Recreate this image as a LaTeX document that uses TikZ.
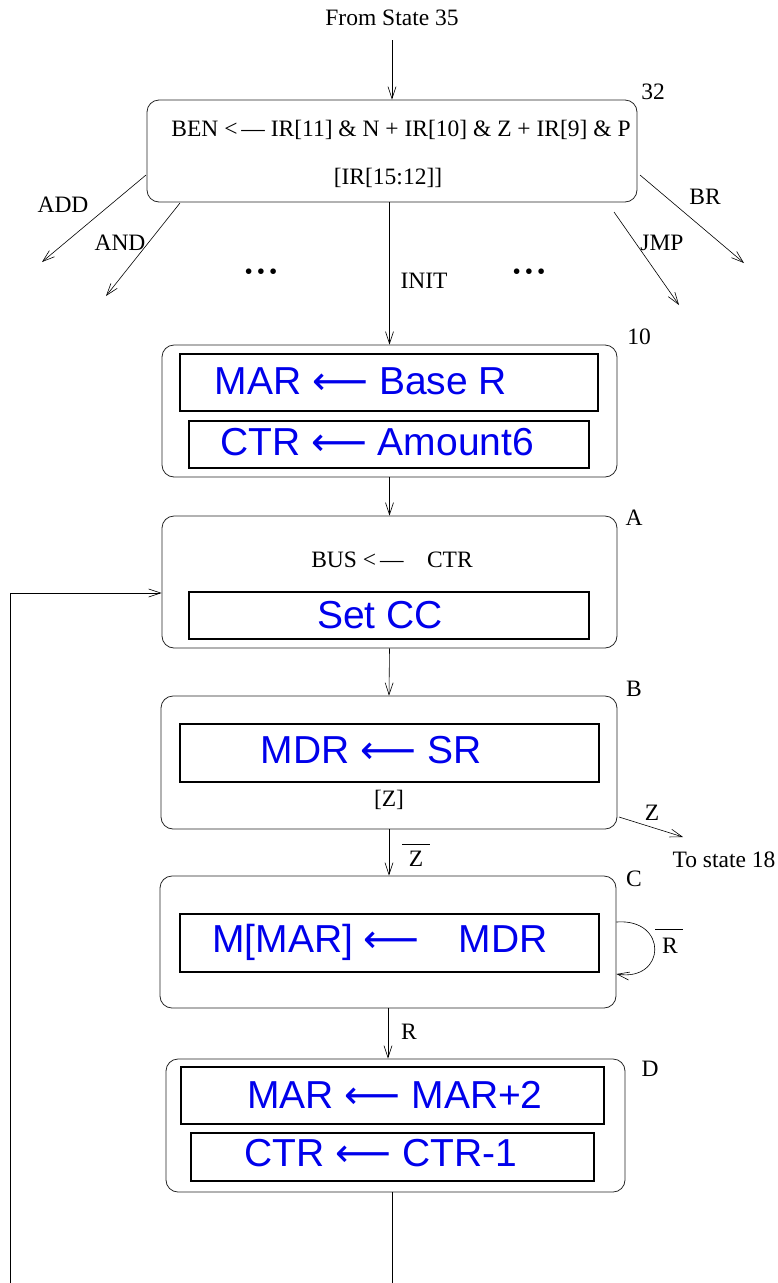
\documentclass[tikz,border=0pt]{standalone}
\usepackage{fontspec}
\setmainfont{Liberation Serif}
\newfontfamily\handfont{Liberation Sans}
\newfontfamily\symfont{DejaVu Sans}
\usetikzlibrary{arrows.meta}
\definecolor{ink}{RGB}{0,0,235}
\newcommand{\harr}{{\symfont ⟵}}
\begin{document}
\begin{tikzpicture}[x=1pt,y=-1pt,
  font=\fontsize{23.5}{27}\selectfont,
  state/.style={draw=black!85, line width=0.8pt, rounded corners=12pt, inner sep=0pt},
  inbox/.style={draw=black, line width=1.4pt, inner sep=0pt},
  hand/.style={text=ink, font=\handfont\fontsize{39}{42}\selectfont, inner sep=0pt},
  lbl/.style={inner sep=0pt},
  arr/.style={-{Straight Barb[length=12pt,width=8pt]}, line width=0.6pt},
  ln/.style={line width=0.6pt}]
\useasboundingbox (0,0) rectangle (777,1283);

% text labels
\node[lbl] (from) at (392,18) {From State 35};
\node[lbl] (n32) at (653,92) {32};
\node[lbl] (n10) at (639,337) {10};
\node[lbl] (nA) at (634,518) {A};
\node[lbl] (nB) at (634,689) {B};
\node[lbl] (nC) at (634,879) {C};
\node[lbl] (nD) at (650,1069) {D};

% states
\node[state, minimum width=490pt, minimum height=102pt] (b32) at (392,151) {};
\node[lbl] (ben) at (401,130) {BEN <\,— IR[11] \& N + IR[10] \& Z + IR[9] \& P};
\node[lbl] (irop) at (388,178) {[IR[15:12]]};

\node[state, minimum width=455pt, minimum height=132pt] (b10) at (389.5,411) {};
\node[inbox, minimum width=418pt, minimum height=57pt] (r10a) at (389,382.5) {};
\node[inbox, minimum width=400pt, minimum height=47pt] (r10b) at (389,444.5) {};
\node[hand] (t10a) at (361,381) {MAR \harr\ Base R};
\node[hand] (t10b) at (377,442) {CTR \harr\ Amount6};

\node[state, minimum width=455pt, minimum height=132pt] (bA) at (389.5,582) {};
\node[lbl] (bus) at (392,560) {BUS <\,—\quad CTR};
\node[inbox, minimum width=400pt, minimum height=47pt] (rA) at (389,615.5) {};
\node[hand] (tA) at (380,615) {Set CC};

\node[state, minimum width=456pt, minimum height=133pt] (bB) at (389,762.5) {};
\node[inbox, minimum width=419pt, minimum height=58pt] (rB) at (389.5,753) {};
\node[hand] (tB) at (371,750) {MDR \harr\ SR};
\node[lbl] (zsel) at (389,800) {[Z]};

\node[state, minimum width=456pt, minimum height=132pt] (bC) at (388,942) {};
\node[inbox, minimum width=419pt, minimum height=58pt] (rC) at (389.5,943) {};
\node[hand] (tC) at (380,942) {M[MAR] \harr\quad MDR};

\node[state, minimum width=459pt, minimum height=133pt] (bD) at (395.5,1125.5) {};
\node[inbox, minimum width=423pt, minimum height=57pt] (rD1) at (392.5,1095.5) {};
\node[inbox, minimum width=403pt, minimum height=48pt] (rD2) at (392.5,1157) {};
\node[hand] (tD1) at (395,1095) {MAR \harr\ MAR+2};
\node[hand] (tD2) at (381,1153) {CTR \harr\ CTR-1};

% branch labels
\node[lbl] (ladd) at (63,205) {ADD};
\node[lbl] (land) at (120,243) {AND};
\node[lbl] (lbr) at (705,197) {BR};
\node[lbl] (ljmp) at (662,243) {JMP};
\node[lbl] (linit) at (424,281) {INIT};
\node[lbl] (dots1) at (261,274) {\textbullet\,\textbullet\,\textbullet};
\node[lbl] (dots2) at (529,274) {\textbullet\,\textbullet\,\textbullet};
\node[lbl] (lz) at (652,813) {Z};
\node[lbl] (to18) at (724,860) {To state 18};
\node[lbl] (lnz) at (416,859) {Z};
\node[lbl] (lnr) at (670,946) {R};
\node[lbl] (lr) at (409,1032) {R};
\draw[ln] (402,844) -- (430,844);
\draw[ln] (655,929) -- (683,929);

% coordinates for free ends
\coordinate (addS) at (146,175);
\coordinate (addE) at (42,262);
\coordinate (andS) at (180,203);
\coordinate (andE) at (106,296);
\coordinate (jmpS) at (614,212);
\coordinate (jmpE) at (679,305);
\coordinate (brS) at (640,175);
\coordinate (brE) at (744,263);
\coordinate (zS) at (619,817);
\coordinate (zE) at (683,837);
\coordinate (botL) at (10,1290);
\coordinate (botD) at (392,1290);

% connectors
\draw[arr] ([yshift=-14pt]from.south -| b32.north) -- (b32.north);
\draw[arr] (addS) -- (addE);
\draw[arr] (andS) -- (andE);
\draw[arr] (jmpS) -- (jmpE);
\draw[arr] (brS) -- (brE);
\draw[arr] (b32.south -| b10.north) -- (b10.north);
\draw[arr] (b10.south) -- (bA.north);
\draw[arr] (bA.south) -- (bB.north);
\draw[arr] (bB.south) -- (bB.south |- bC.north);
\draw[arr] (zS) -- (zE);
\draw[arr] ([yshift=20pt]bC.east) .. controls +(52,-4) and +(50,8) .. ([yshift=-32pt]bC.east);
\draw[arr] (bC.south) -- (bC.south |- bD.north);
\draw[ln] (bD.south -| botD) -- (botD);
\draw[arr] (botL) |- ([yshift=-11pt]bA.west);
\end{tikzpicture}
\end{document}
